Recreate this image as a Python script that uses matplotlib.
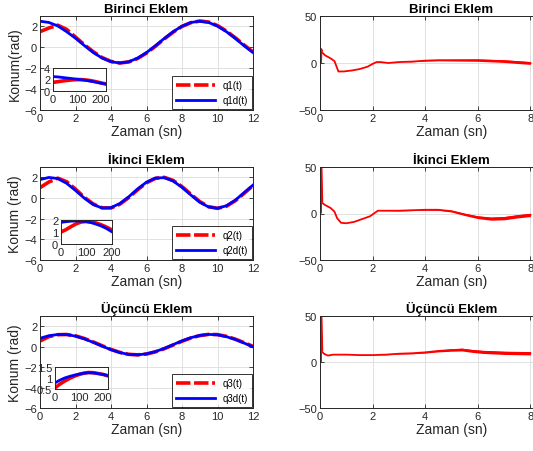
import numpy as np
import matplotlib
matplotlib.use("Agg")
import matplotlib.pyplot as plt

plt.rcParams['font.family'] = ['Liberation Sans', 'DejaVu Sans']

# main trajectories (read every 0.5 s)
t = np.arange(0, 12.01, 0.5)
q1d = [2.5, 2.38, 2.05, 1.5, 0.87, 0.17, -0.5, -1.03, -1.38, -1.5, -1.38, -1.03, -0.5,
       0.15, 0.85, 1.5, 2.03, 2.38, 2.5, 2.38, 2.03, 1.5, 0.85, 0.15, -0.5]
q1 = [1.5, 1.85, 2.12, 1.72, 0.98, 0.25, -0.42, -0.98, -1.35, -1.5, -1.4, -1.07, -0.55,
      0.1, 0.8, 1.45, 2.0, 2.36, 2.52, 2.42, 2.08, 1.56, 0.92, 0.22, -0.44]
q2d = [1.78, 1.99, 1.88, 1.42, 0.73, -0.02, -0.64, -0.97, -0.93, -0.53, 0.12, 0.88, 1.53,
       1.93, 1.97, 1.64, 1.03, 0.29, -0.41, -0.87, -0.99, -0.75, -0.21, 0.52, 1.25]
q2 = [1.0, 1.55, 1.92, 1.58, 0.86, 0.06, -0.58, -0.95, -0.97, -0.6, 0.04, 0.8, 1.47,
      1.9, 2.0, 1.7, 1.1, 0.36, -0.35, -0.84, -1.0, -0.8, -0.27, 0.45, 1.2]
q3d = [0.82, 1.07, 1.19, 1.18, 1.03, 0.76, 0.42, 0.05, -0.3, -0.58, -0.76, -0.8, -0.7,
       -0.48, -0.17, 0.2, 0.57, 0.88, 1.1, 1.2, 1.16, 0.98, 0.7, 0.35, -0.02]
q3 = [0.55, 0.98, 1.17, 1.19, 1.06, 0.8, 0.46, 0.09, -0.27, -0.56, -0.75, -0.8, -0.72,
      -0.51, -0.2, 0.16, 0.53, 0.85, 1.08, 1.2, 1.18, 1.01, 0.74, 0.39, 0.03]

# inset (first samples)
n_in = [0, 20, 40, 60, 80, 100, 120, 140, 160, 180, 200, 220]
in1d = [2.5, 2.45, 2.35, 2.25, 2.15, 2.05, 1.95, 1.82, 1.68, 1.52, 1.35, 1.2]
in1 = [1.5, 1.62, 1.75, 1.85, 1.93, 1.98, 1.97, 1.9, 1.78, 1.6, 1.4, 1.22]
in2d = [1.8, 1.86, 1.9, 1.92, 1.9, 1.86, 1.78, 1.65, 1.5, 1.3, 1.05, 0.8]
in2 = [1.0, 1.2, 1.45, 1.68, 1.83, 1.88, 1.85, 1.75, 1.6, 1.42, 1.2, 0.98]
in3d = [0.78, 0.9, 1.0, 1.07, 1.13, 1.18, 1.22, 1.24, 1.23, 1.2, 1.16, 1.1]
in3 = [0.55, 0.72, 0.86, 0.98, 1.08, 1.16, 1.22, 1.25, 1.24, 1.2, 1.16, 1.1]

# tracking errors
te1 = [0, 0.02, 0.05, 0.2, 0.4, 0.55, 0.7, 0.9, 1.2, 1.5, 1.8, 2.0, 2.15, 2.3, 2.6, 3, 3.5,
       4, 4.5, 5, 5.5, 6, 6.5, 7, 7.5, 8]
e1 = [0, 14, 12, 8, 5, 2, -9, -9, -8, -6.5, -4, -1, 1, 1, 0, 1, 1.5, 2.5, 3, 3, 3, 3, 2.5,
      2, 1, 0]
w1 = [0, 0, 0, 0, 0, 0, 0, 0, 0, 0, 0, 0, 0, 0, 0, 0, 0.2, 0.4, 0.6, 0.8, 1.0, 1.2, 1.3,
      1.4, 1.5, 1.5]
te2 = [0, 0.01, 0.05, 0.2, 0.4, 0.55, 0.65, 0.8, 1.0, 1.3, 1.6, 1.9, 2.1, 2.2, 2.5, 3, 3.5,
       4, 4.5, 5, 5.5, 6, 6.5, 7, 7.5, 8]
e2 = [0, 52, 12, 9, 6, 2, -5, -10, -10.5, -9, -6, -3, 1, 3, 3, 3, 3.5, 4, 4, 2.5, -1, -4,
      -5.5, -5, -3, -1.5]
w2 = [0, 0, 0, 0, 0, 0, 0, 0, 0, 0, 0, 0, 0, 0, 0, 0.2, 0.3, 0.4, 0.6, 0.9, 1.2, 1.5, 1.7,
      1.8, 1.8, 1.8]
te3 = [0, 0.01, 0.05, 0.15, 0.3, 0.5, 1, 1.5, 2, 2.5, 3, 3.5, 4, 4.5, 5, 5.4, 5.8, 6.2, 7, 8]
e3 = [0, 52, 12, 9, 7, 8, 8, 7.5, 7.5, 8, 9, 9.5, 10.5, 12, 13, 13.5, 12, 11, 10, 9.5]
w3 = [0, 0, 0, 0, 0, 0, 0, 0, 0, 0.2, 0.4, 0.6, 0.8, 1.0, 1.3, 1.5, 1.6, 1.7, 1.8, 1.8]

titles = ['Birinci Eklem', 'İkinci Eklem', 'Üçüncü Eklem']
ylabels = ['Konum(rad)', 'Konum (rad)', 'Konum (rad)']
names = [('q1(t)', 'q1d(t)'), ('q2(t)', 'q2d(t)'), ('q3(t)', 'q3d(t)')]
q_act = [q1, q2, q3]
q_des = [q1d, q2d, q3d]
ins_act = [in1, in2, in3]
ins_des = [in1d, in2d, in3d]
ins_ylim = [(0, 4), (0, 2), (0.5, 1.5)]
ins_yt = [[0, 2, 4], [0, 1, 2], [0.5, 1, 1.5]]
ins_xlim = [220, 203, 220]
errs = [(te1, e1, w1), (te2, e2, w2), (te3, e3, w3)]

W, H = 533, 452
fig = plt.figure(figsize=(W / 100, H / 100), dpi=100)

def box(l, t_, r, b):
    return [l / W, 1 - b / H, (r - l) / W, (b - t_) / H]

txtc = '#262626'
edge = '#262626'

def style(ax, fs=8):
    ax.tick_params(direction='in', length=3, width=0.6, labelsize=fs, colors=txtc,
                   pad=2, top=True, right=True)
    for s in ax.spines.values():
        s.set_color(edge)
        s.set_linewidth(0.7)

rows = [(17, 111), (168, 261), (317, 409)]
insets = [(53, 69, 106, 92), (61, 221, 112, 245), (55, 368, 108, 390)]

for i in range(3):
    top, bot = rows[i]
    ax = fig.add_axes(box(40, top, 253, bot))
    style(ax)
    ax.grid(True, color='#dcdcdc', linewidth=0.6)
    ax.set_axisbelow(True)
    ax.plot(t, q_act[i], color='red', lw=2.6, dashes=(4, 1), label=names[i][0])
    ax.plot(t, q_des[i], color='blue', lw=2.0, label=names[i][1])
    ax.set_xlim(0, 12)
    ax.set_ylim(-6, 3)
    ax.set_xticks(range(0, 13, 2))
    ax.set_yticks([-6, -4, -2, 0, 2])
    ax.set_xlabel('Zaman (sn)', fontsize=10, color=txtc, labelpad=1)
    ax.set_ylabel(ylabels[i], fontsize=10, color=txtc, labelpad=2)
    ax.set_title(titles[i], fontsize=9.5, fontweight='bold', pad=3)
    leg = ax.legend(loc='lower right', fontsize=7, frameon=True, fancybox=False,
                    borderaxespad=0.1, handlelength=4, labelspacing=0.5)
    leg.get_frame().set_edgecolor('black')
    leg.get_frame().set_linewidth(0.7)

    l, tt, r, b = insets[i]
    ai = fig.add_axes(box(l, tt, r, b))
    style(ai)
    ai.tick_params(top=False, right=False, length=0)
    ai.plot(n_in, ins_act[i], color='red', lw=2.6)
    ai.plot(n_in, ins_des[i], color='blue', lw=2.0)
    ai.set_xlim(0, ins_xlim[i])
    ai.set_ylim(*ins_ylim[i])
    ai.set_xticks([0, 100, 200])
    ai.set_yticks(ins_yt[i])
    ai.set_yticklabels([('%g' % v) for v in ins_yt[i]])

    ax2 = fig.add_axes(box(320, top, 583, bot))
    style(ax2)
    ax2.grid(True, color='#dcdcdc', linewidth=0.6)
    ax2.set_axisbelow(True)
    te, ee, ww = errs[i]
    ee = np.array(ee)
    ww = np.array(ww)
    ax2.fill_between(te, ee - ww, ee + ww, color='red', lw=0)
    ax2.plot(te, ee, color='red', lw=1.3)
    # initial spike drawn thicker
    ax2.plot(te[:3], ee[:3], color='red', lw=2.8, solid_capstyle='butt')
    ax2.set_xlim(0, 10)
    ax2.set_ylim(-50, 50)
    ax2.set_xticks(range(0, 11, 2))
    ax2.set_yticks([-50, 0, 50])
    ax2.set_xlabel('Zaman (sn)', fontsize=10, color=txtc, labelpad=1)
    ax2.set_title(titles[i], fontsize=9.5, fontweight='bold', pad=3)

fig.savefig('out.png', dpi=100)
